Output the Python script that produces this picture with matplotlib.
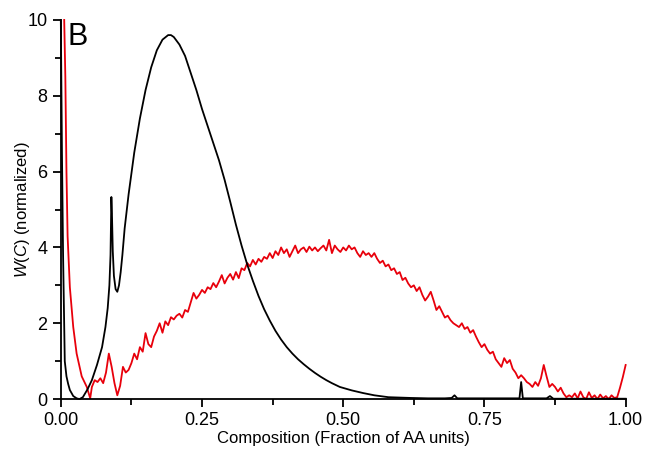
import numpy as np
import matplotlib.pyplot as plt
from matplotlib.ticker import MultipleLocator

plt.rcParams['font.family'] = 'Liberation Sans'
plt.rcParams['mathtext.fontset'] = 'custom'
plt.rcParams['mathtext.rm'] = 'Liberation Sans'
plt.rcParams['mathtext.it'] = 'Liberation Sans:italic'

# black curve (smooth)
black_x = [0.000, 0.002, 0.004, 0.007, 0.010, 0.013, 0.016, 0.022, 0.028, 0.033,
           0.039, 0.047, 0.055, 0.064, 0.073, 0.079, 0.083, 0.086, 0.088, 0.0895,
           0.0905, 0.092, 0.094, 0.097, 0.100, 0.103, 0.106, 0.109, 0.113, 0.120,
           0.130, 0.140, 0.150, 0.160, 0.170, 0.180, 0.190, 0.195, 0.200, 0.210,
           0.220, 0.230, 0.240, 0.250, 0.260, 0.270, 0.280, 0.290, 0.300, 0.310,
           0.320, 0.330, 0.340, 0.350, 0.360, 0.370, 0.380, 0.390, 0.400, 0.410,
           0.420, 0.430, 0.440, 0.450, 0.460, 0.470, 0.480, 0.494, 0.515, 0.535,
           0.555, 0.580, 0.600, 0.620, 0.650, 0.680, 0.692, 0.697, 0.702, 0.750,
           0.800, 0.812, 0.815, 0.818, 0.860, 0.866, 0.872, 0.920, 1.000]
black_y = [10.0, 6.5, 3.8, 1.0, 0.6, 0.4, 0.24, 0.08, 0.02, 0.0,
           0.05, 0.25, 0.5, 0.9, 1.37, 1.9, 2.4, 3.0, 3.8, 5.33,
           4.9, 3.9, 3.25, 2.9, 2.83, 3.0, 3.35, 3.8, 4.5, 5.4,
           6.5, 7.4, 8.15, 8.75, 9.2, 9.48, 9.6, 9.6, 9.55, 9.35,
           9.05, 8.6, 8.15, 7.65, 7.2, 6.75, 6.3, 5.78, 5.2, 4.6,
           4.05, 3.55, 3.12, 2.72, 2.37, 2.07, 1.8, 1.57, 1.37, 1.2,
           1.05, 0.92, 0.8, 0.69, 0.59, 0.5, 0.42, 0.32, 0.23, 0.16,
           0.1, 0.05, 0.04, 0.03, 0.02, 0.02, 0.03, 0.1, 0.02, 0.02,
           0.02, 0.02, 0.45, 0.02, 0.02, 0.08, 0.01, 0.01, 0.01]

# red curve: steep left part, then noisy hump sampled every 0.005
red_left_x = [0.006, 0.008, 0.010, 0.012, 0.016, 0.022, 0.028, 0.037, 0.046, 0.052]
red_left_y = [10.0, 8.5, 6.0, 4.3, 2.95, 1.9, 1.2, 0.6, 0.32, 0.02]
red_noisy_y = [
    0.32, 0.50, 0.45, 0.55, 0.42, 0.70, 1.20, 0.85, 0.42, 0.10,
    0.35, 0.85, 0.70, 0.77, 0.95, 1.20, 1.05, 1.37, 1.25, 1.74,
    1.45, 1.37, 1.65, 1.80, 2.00, 1.75, 2.05, 1.95, 2.16, 2.10,
    2.20, 2.25, 2.15, 2.35, 2.30, 2.55, 2.80, 2.65, 2.75, 2.88,
    2.80, 2.95, 2.90, 3.06, 2.95, 3.10, 3.27, 3.05, 3.20, 3.30,
    3.15, 3.35, 3.19, 3.45, 3.40, 3.59, 3.50, 3.67, 3.55, 3.70,
    3.62, 3.75, 3.70, 3.85, 3.72, 3.90, 3.80, 4.00, 3.85, 3.95,
    3.75, 3.90, 4.05, 3.85, 3.95, 4.00, 3.88, 4.02, 3.92, 4.00,
    3.90, 3.98, 4.05, 3.92, 4.20, 3.85, 4.05, 3.95, 3.88, 4.00,
    3.92, 4.05, 3.95, 4.00, 3.85, 3.75, 3.90, 3.80, 3.85, 3.75,
    3.85, 3.70, 3.59, 3.65, 3.50, 3.55, 3.40, 3.45, 3.30, 3.35,
    3.14, 3.20, 3.05, 2.95, 3.00, 2.85, 2.95, 2.75, 2.60, 2.70,
    2.83, 2.60, 2.35, 2.45, 2.30, 2.15, 2.20, 2.08, 2.00, 1.95,
    1.90, 2.00, 1.85, 1.90, 1.75, 1.82, 1.65, 1.50, 1.37, 1.45,
    1.30, 1.20, 1.25, 1.05, 0.95, 0.85, 1.08, 0.95, 1.03, 0.80,
    0.70, 0.55, 0.63, 0.55, 0.45, 0.40, 0.32, 0.45, 0.35, 0.55,
    0.90, 0.60, 0.32, 0.40, 0.32, 0.20, 0.30, 0.15, 0.05, 0.10,
    0.05, 0.15, 0.02, 0.20, 0.05, 0.00, 0.18, 0.03, 0.10, 0.00,
    0.12, 0.02, 0.08, 0.00, 0.10, 0.03, 0.05, 0.30, 0.58, 0.90,
]
red_noisy_x = np.linspace(0.055, 1.0, len(red_noisy_y))

red_x = np.concatenate([red_left_x, red_noisy_x])
red_y = np.concatenate([red_left_y, red_noisy_y])

fig = plt.figure(figsize=(6.47, 4.53), dpi=100)
ax = fig.add_axes([0.094, 0.119, 0.873, 0.837])

ax.plot(black_x, black_y, color='black', lw=1.3, clip_on=False, zorder=3)
ax.plot(red_x, red_y, color='#e8000b', lw=1.3, clip_on=False, zorder=2)

ax.set_xlim(0, 1)
ax.set_ylim(0, 10)
ax.spines['top'].set_visible(False)
ax.spines['right'].set_visible(False)
ax.spines['left'].set_linewidth(1.3)
ax.spines['bottom'].set_linewidth(1.3)

ax.xaxis.set_minor_locator(MultipleLocator(0.125))
ax.yaxis.set_major_locator(MultipleLocator(2))
ax.yaxis.set_minor_locator(MultipleLocator(1))
ax.set_xticks([0, 0.25, 0.5, 0.75, 1.0])
ax.set_xticklabels(['0.00', '0.25', '0.50', '0.75', '1.00'])
ax.tick_params(which='major', direction='out', length=6, width=1.3, labelsize=13)
ax.tick_params(which='minor', direction='out', length=4, width=1.3)

ax.set_xlabel('Composition (Fraction of AA units)', fontsize=12, labelpad=1)
ax.set_ylabel(r'$W$($C$) (normalized)', fontsize=12, labelpad=-3)

ax.text(0.012, 0.995, 'B', transform=ax.transAxes, fontsize=22,
        ha='left', va='top')

fig.savefig('out.png', dpi=100)
